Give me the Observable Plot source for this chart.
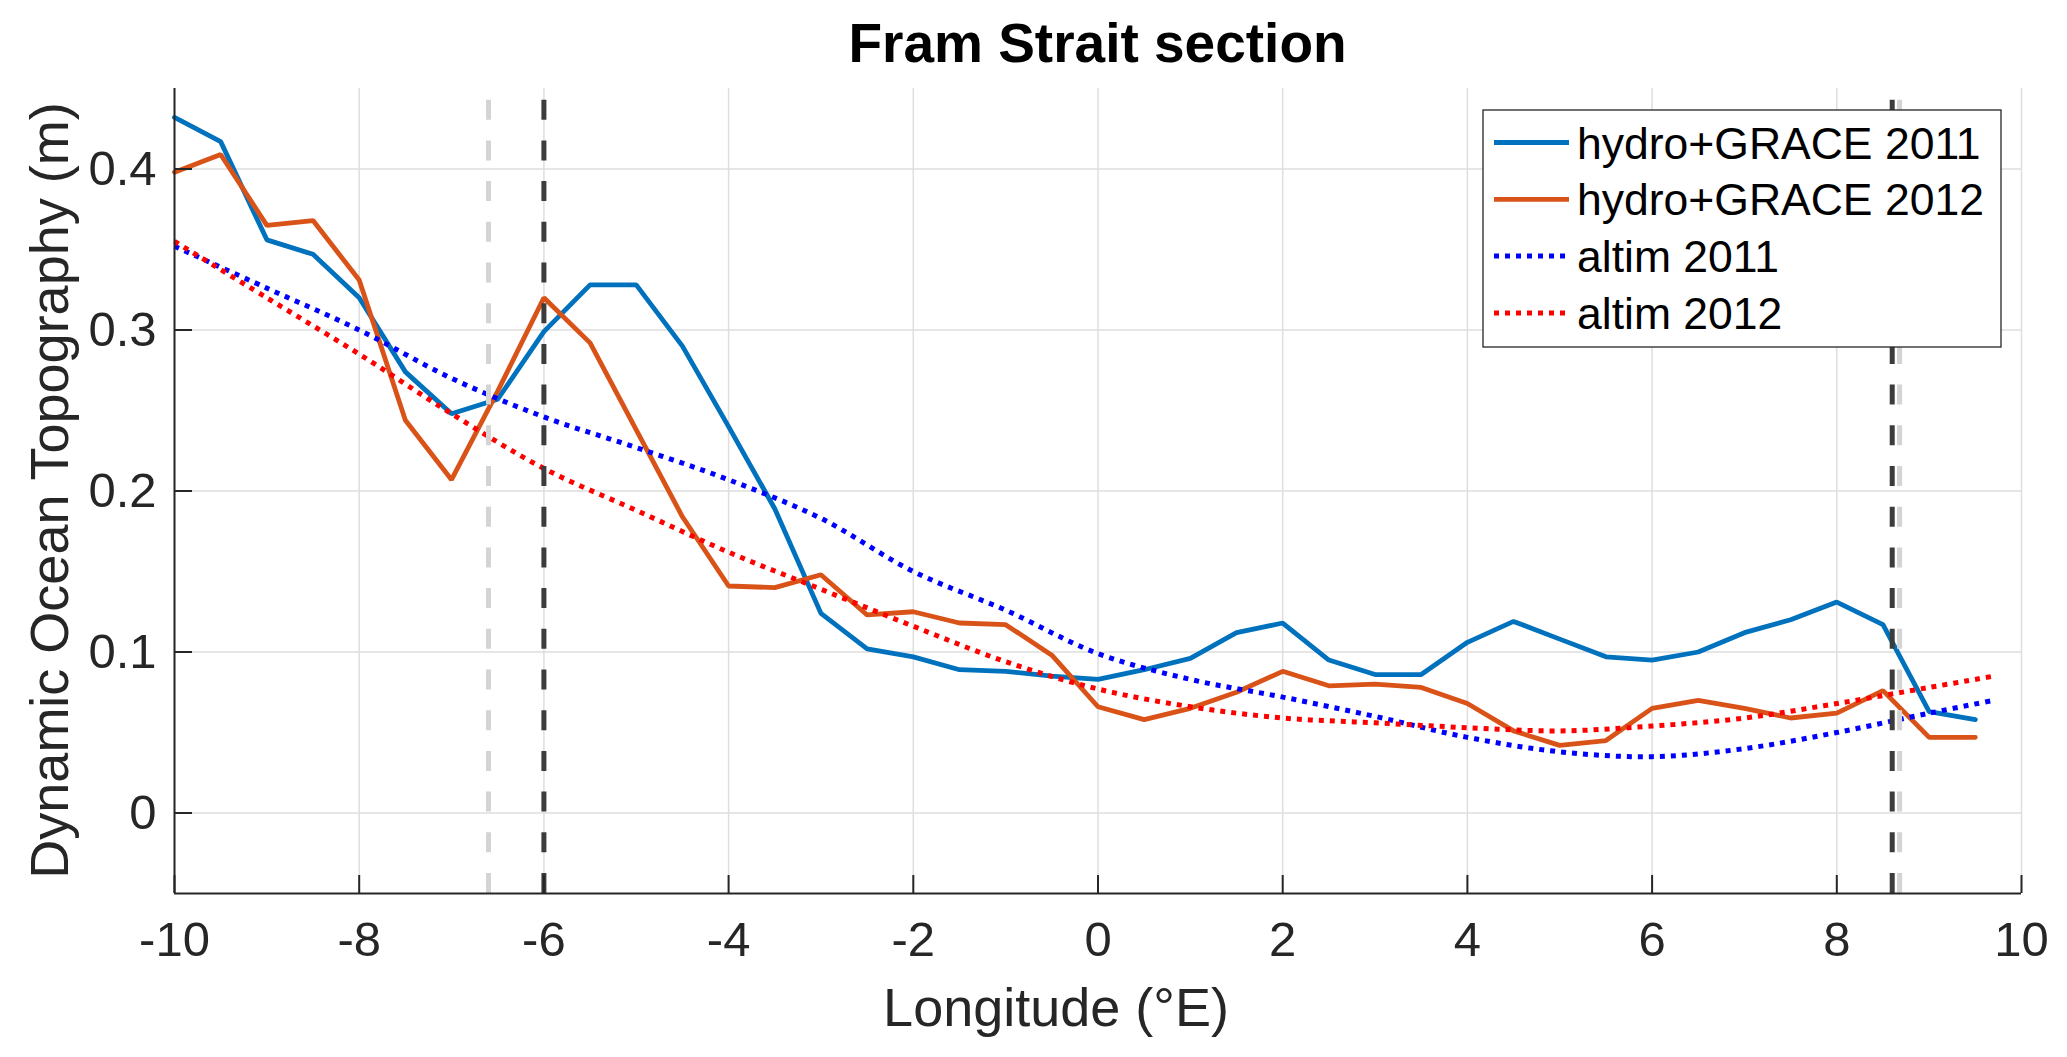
<!DOCTYPE html>
<html>
<head>
<meta charset="utf-8">
<script src="https://cdn.jsdelivr.net/npm/d3@7"></script>
<script src="https://cdn.jsdelivr.net/npm/@observablehq/plot@0.6"></script>
<style>
  html, body { margin: 0; padding: 0; background: #ffffff; overflow: hidden; }
  #chart { position: relative; width: 2067px; height: 1057px; }
</style>
</head>
<body>
<div id="chart"></div>
<script>
// ---------- data ----------
const lon = [-10, -9.5, -9, -8.5, -8, -7.5, -7, -6.5, -6, -5.5, -5, -4.5, -4, -3.5, -3, -2.5, -2, -1.5, -1, -0.5,
             0, 0.5, 1, 1.5, 2, 2.5, 3, 3.5, 4, 4.5, 5, 5.5, 6, 6.5, 7, 7.5, 8, 8.5, 9, 9.5];
const hydro2011 = [0.432, 0.417, 0.356, 0.347, 0.320, 0.274, 0.248, 0.257, 0.299, 0.328, 0.328, 0.290, 0.240, 0.189, 0.124, 0.102, 0.097, 0.089, 0.088, 0.085,
                   0.083, 0.089, 0.096, 0.112, 0.118, 0.095, 0.086, 0.086, 0.106, 0.119, 0.108, 0.097, 0.095, 0.100, 0.112, 0.120, 0.131, 0.117, 0.063, 0.058];
const hydro2012 = [0.398, 0.409, 0.365, 0.368, 0.331, 0.244, 0.207, 0.262, 0.320, 0.292, 0.238, 0.184, 0.141, 0.140, 0.148, 0.123, 0.125, 0.118, 0.117, 0.098,
                   0.066, 0.058, 0.065, 0.075, 0.088, 0.079, 0.080, 0.078, 0.068, 0.051, 0.042, 0.045, 0.065, 0.070, 0.065, 0.059, 0.062, 0.076, 0.047, 0.047];
const altimLon = [-10, -9, -8, -7, -6, -5, -4, -3, -2, -1, 0, 1, 2, 3, 4, 5, 6, 7, 8, 9, 9.7];
const altim2011 = [0.352, 0.326, 0.300, 0.270, 0.246, 0.227, 0.207, 0.183, 0.150, 0.126, 0.099, 0.083, 0.072, 0.060, 0.047, 0.038, 0.035, 0.040, 0.050, 0.062, 0.070];
const altim2012 = [0.355, 0.320, 0.285, 0.248, 0.214, 0.188, 0.162, 0.139, 0.116, 0.094, 0.077, 0.066, 0.059, 0.056, 0.053, 0.051, 0.054, 0.059, 0.068, 0.078, 0.085];
const boundaryDark = [-6.0, 8.6];
const boundaryLight = [-6.6, 8.68];
const xTicks = [-10, -8, -6, -4, -2, 0, 2, 4, 6, 8, 10];
const yTicks = [0, 0.1, 0.2, 0.3, 0.4];
const xDomain = [-10, 10];
const yDomain = [-0.05, 0.45];
const seriesNames = ["hydro+GRACE 2011", "hydro+GRACE 2012", "altim 2011", "altim 2012"];
const seriesColors = ["#0072BD", "#D95319", "#0000FF", "#FF0000"];
const titleText = "Fram Strait section";
const xLabel = "Longitude (°E)";
const yLabel = "Dynamic Ocean Topography (m)";

// ---------- layout ----------
const W = 2067, H = 1057;
const mL = 174, mR = 46, mT = 88, mB = 164;
const plotW = W - mL - mR, plotH = H - mT - mB;
const axisColor = "#262626";
const font = "'Liberation Sans', Arial, Helvetica, sans-serif";
const solidWidth = 4.8;
const dotWidth = 5;
const dotDash = "5,6";

const rows = (xs, ys) => xs.map((x, i) => ({x, y: ys[i]}));

const svg = Plot.plot({
  width: W, height: H,
  marginLeft: mL, marginRight: mR, marginTop: mT, marginBottom: mB,
  style: {fontFamily: font, background: "#ffffff", color: axisColor, overflow: "visible"},
  x: {domain: xDomain},
  y: {domain: yDomain},
  marks: [
    Plot.gridX(xTicks, {stroke: "#dedede", strokeOpacity: 1, strokeWidth: 1.5}),
    Plot.gridY(yTicks, {stroke: "#dedede", strokeOpacity: 1, strokeWidth: 1.5}),
    Plot.line(rows(lon, hydro2011), {x: "x", y: "y", stroke: seriesColors[0], strokeWidth: solidWidth, strokeLinejoin: "miter"}),
    Plot.line(rows(lon, hydro2012), {x: "x", y: "y", stroke: seriesColors[1], strokeWidth: solidWidth, strokeLinejoin: "miter"}),
    Plot.line(rows(altimLon, altim2011), {x: "x", y: "y", stroke: seriesColors[2], strokeWidth: dotWidth, strokeDasharray: dotDash, strokeLinecap: "butt", curve: "catmull-rom"}),
    Plot.line(rows(altimLon, altim2012), {x: "x", y: "y", stroke: seriesColors[3], strokeWidth: dotWidth, strokeDasharray: dotDash, strokeLinecap: "butt", curve: "catmull-rom"}),
    Plot.ruleX(boundaryLight, {x: d => d, y1: yDomain[0], y2: yDomain[1], stroke: "#d4d4d4", strokeWidth: 5, strokeDasharray: "20,20.7"}),
    Plot.ruleX(boundaryDark, {x: d => d, y1: yDomain[0], y2: yDomain[1], stroke: "#3c3c3c", strokeWidth: 5, strokeDasharray: "20,20.7"}),
    Plot.ruleY([yDomain[0]], {stroke: axisColor, strokeWidth: 2}),
    Plot.ruleX([xDomain[0]], {stroke: axisColor, strokeWidth: 2}),
    Plot.tickX(xTicks, {x: d => d, insetTop: plotH - 18, stroke: axisColor, strokeWidth: 2}),
    Plot.tickY(yTicks, {y: d => d, insetRight: plotW - 18, stroke: axisColor, strokeWidth: 2}),
    Plot.axisX(xTicks, {tickSize: 0, tickPadding: 28, fontSize: 49, fill: axisColor, tickFormat: d => String(d), label: null}),
    Plot.axisY(yTicks, {tickSize: 0, tickPadding: 18, fontSize: 49, fill: axisColor, tickFormat: d => String(d), label: null})
  ]
});
document.getElementById("chart").appendChild(svg);

// ---------- title, axis labels, legend ----------
const s = d3.select(svg);
s.append("text")
  .attr("x", mL + plotW / 2).attr("y", 62)
  .attr("text-anchor", "middle")
  .attr("font-family", font).attr("font-size", 55).attr("font-weight", "bold")
  .attr("fill", "#000").text(titleText);
s.append("text")
  .attr("x", 1056).attr("y", 1026)
  .attr("text-anchor", "middle")
  .attr("font-family", font).attr("font-size", 54)
  .attr("fill", axisColor).text(xLabel);
s.append("text")
  .attr("transform", `translate(68,${mT + plotH / 2}) rotate(-90)`)
  .attr("text-anchor", "middle")
  .attr("font-family", font).attr("font-size", 54)
  .attr("fill", axisColor).text(yLabel);

const lg = s.append("g").attr("transform", "translate(1483,110)");
lg.append("rect").attr("width", 518).attr("height", 237)
  .attr("fill", "#ffffff").attr("stroke", axisColor).attr("stroke-width", 1.3);
seriesNames.forEach((name, i) => {
  const y = 32.5 + i * 56.8;
  lg.append("line").attr("x1", 11).attr("x2", 86).attr("y1", y).attr("y2", y)
    .attr("stroke", seriesColors[i]).attr("stroke-width", i < 2 ? solidWidth : dotWidth)
    .attr("stroke-dasharray", i < 2 ? null : dotDash);
  lg.append("text").attr("x", 94).attr("y", y + 16)
    .attr("text-anchor", "start")
    .attr("font-family", font).attr("font-size", 44.5).attr("fill", "#000").text(name);
});
</script>
</body>
</html>
